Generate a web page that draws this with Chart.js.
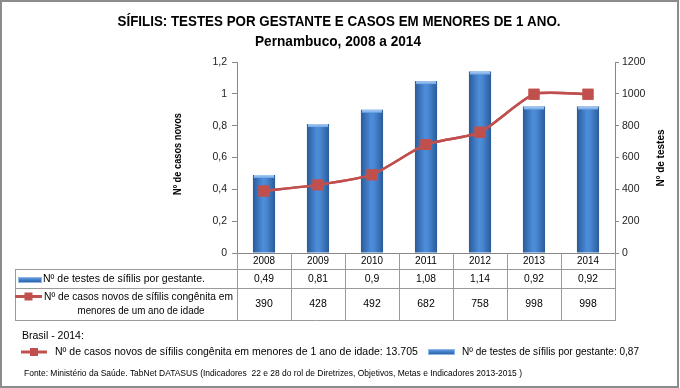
<!DOCTYPE html>
<html>
<head>
<meta charset="utf-8">
<script src="https://cdn.jsdelivr.net/npm/chart.js@4"></script>
<style>
  html, body { margin: 0; padding: 0; background: #fff; }
  #wrap { width: 680px; height: 388px; }
</style>
</head>
<body>
<div id="wrap"><canvas id="grafico" width="680" height="388"></canvas></div>
<script>
const anos = ['2008', '2009', '2010', '2011', '2012', '2013', '2014'];
const testesPorGestante = [0.49, 0.81, 0.9, 1.08, 1.14, 0.92, 0.92];
const casosNovos = [390, 428, 492, 682, 758, 998, 998];
const ticksEsquerda = { min: 0, max: 1.2, passo: 0.2 };
const ticksDireita = { min: 0, max: 1200, passo: 200 };

const titulo1 = 'SÍFILIS: TESTES POR GESTANTE E CASOS EM MENORES DE 1 ANO.';
const titulo2 = 'Pernambuco, 2008 a 2014';
const tituloEsq = 'Nº de casos novos';
const tituloDir = 'Nº de testes';
const rotuloBarras = 'Nº de testes de sífilis por gestante.';
const rotuloLinha = ['Nº de casos novos de sífilis congênita em', 'menores de um ano de idade'];
const brasilTitulo = 'Brasil - 2014:';
const brasilCasos = 'Nº de casos novos de sífilis congênita em menores de 1 ano de idade: 13.705';
const brasilTestes = 'Nº de testes de sífilis por gestante: 0,87';
const fonte = 'Fonte: Ministério da Saúde. TabNet DATASUS (Indicadores  22 e 28 do rol de Diretrizes, Objetivos, Metas e Indicadores 2013-2015 )';

const AZUL = '#3f7cc6';
const VERMELHO = '#c0504d';
const CINZA = '#9a9a9a';
const FAMILIA = '"Liberation Sans", Arial, sans-serif';

function virgula(v) {
    return String(Math.round(v * 100) / 100).replace('.', ',');
}

function gradienteBarra(ctx, x0, x1) {
    const g = ctx.createLinearGradient(x0, 0, x1, 0);
    g.addColorStop(0, '#2a5b99');
    g.addColorStop(0.45, '#4d8ddb');
    g.addColorStop(0.6, '#4a88d4');
    g.addColorStop(1, '#2a5b99');
    return g;
}

function texto(ctx, t, x, y, maxW) {
    const w = ctx.measureText(t).width;
    if (maxW && w > maxW) ctx.fillText(t, x, y, maxW);
    else ctx.fillText(t, x, y);
}

function gradienteVertical(ctx, y0, y1) {
    const g = ctx.createLinearGradient(0, y0, 0, y1);
    g.addColorStop(0, '#6ea3e6');
    g.addColorStop(0.5, '#3f7cc6');
    g.addColorStop(1, '#2a5b99');
    return g;
}

function iconeBarra(ctx, x, y, w, h) {
    ctx.fillStyle = gradienteVertical(ctx, y, y + h);
    ctx.fillRect(x, y, w, h);
    ctx.strokeStyle = '#8fb6e6';
    ctx.lineWidth = 1;
    ctx.strokeRect(x + 0.5, y + 0.5, w - 1, h - 1);
}

function iconeLinha(ctx, x0, x1, y) {
    ctx.strokeStyle = VERMELHO;
    ctx.lineWidth = 3;
    ctx.beginPath();
    ctx.moveTo(x0, y);
    ctx.lineTo(x1, y);
    ctx.stroke();
    ctx.fillStyle = VERMELHO;
    const cx = (x0 + x1) / 2;
    ctx.fillRect(cx - 4, y - 4, 8, 8);
}

const extras = {
    id: 'extras',
    afterDatasetsDraw(chart) {
        // tampa clara no topo das barras
        const ctx = chart.ctx;
        const meta = chart.getDatasetMeta(1);
        ctx.save();
        meta.data.forEach(b => {
            const w = b.width;
            const g = ctx.createLinearGradient(0, b.y, 0, b.y + 4);
            g.addColorStop(0, '#a9cdf3');
            g.addColorStop(1, '#5d98df');
            ctx.fillStyle = g;
            ctx.fillRect(b.x - w / 2 + 1, b.y, w - 2, 3);
        });
        ctx.restore();
        // linha por cima das barras
        chart.getDatasetMeta(0).controller.draw();
    },
    afterDraw(chart) {
        const ctx = chart.ctx;
        const area = chart.chartArea;
        const x = chart.scales.x;
        ctx.save();

        // moldura
        ctx.strokeStyle = '#8c8c8c';
        ctx.lineWidth = 2;
        ctx.strokeRect(1, 1, 677, 386);

        // títulos
        ctx.fillStyle = '#000';
        ctx.textAlign = 'center';
        ctx.textBaseline = 'middle';
        ctx.font = 'bold 15px ' + FAMILIA;
        texto(ctx, titulo1, 339, 22, 443);
        texto(ctx, titulo2, 338, 42, 166);

        // títulos dos eixos
        ctx.font = 'bold 11px ' + FAMILIA;
        ctx.save();
        ctx.translate(178, 154);
        ctx.rotate(-Math.PI / 2);
        texto(ctx, tituloEsq, 0, 0, 82);
        ctx.restore();
        ctx.save();
        ctx.translate(661, 158);
        ctx.rotate(-Math.PI / 2);
        texto(ctx, tituloDir, 0, 0, 57);
        ctx.restore();

        // eixo x
        ctx.strokeStyle = '#888';
        ctx.lineWidth = 1;
        ctx.beginPath();
        ctx.moveTo(area.left, area.bottom + 0.5);
        ctx.lineTo(area.right, area.bottom + 0.5);
        ctx.stroke();

        // tabela
        const passo = (area.right - area.left) / anos.length;
        const yAnos = area.bottom, yL1 = 269, yL2 = 288, yFim = 320;
        ctx.strokeStyle = CINZA;
        ctx.beginPath();
        for (let i = 0; i <= anos.length; i++) {
            const xx = Math.round(area.left + passo * i) + 0.5;
            ctx.moveTo(xx, yAnos);
            ctx.lineTo(xx, yFim);
        }
        ctx.moveTo(15.5, yL1);
        ctx.lineTo(15.5, yFim);
        [yL1, yL2, yFim].forEach(yy => {
            ctx.moveTo(15, yy + 0.5);
            ctx.lineTo(area.right + 1, yy + 0.5);
        });
        ctx.stroke();

        ctx.fillStyle = '#000';
        ctx.font = '10.5px ' + FAMILIA;
        ctx.textAlign = 'center';
        anos.forEach((a, i) => {
            const cx = x.getPixelForValue(i);
            texto(ctx, a, cx, 261.5, 22);
            texto(ctx, virgula(testesPorGestante[i]), cx, 279.5, 20);
            texto(ctx, String(casosNovos[i]), cx, 304, 18);
        });

        // legenda na tabela
        iconeBarra(ctx, 18, 277, 24, 6);
        ctx.fillStyle = '#000';
        ctx.textAlign = 'left';
        texto(ctx, rotuloBarras, 43, 279.5, 162);
        iconeLinha(ctx, 15, 42, 296.5);
        ctx.fillStyle = '#000';
        texto(ctx, rotuloLinha[0], 44, 297, 189);
        ctx.textAlign = 'center';
        texto(ctx, rotuloLinha[1], 141, 311.5, 127);

        // rodapé
        ctx.textAlign = 'left';
        ctx.font = '10.5px ' + FAMILIA;
        texto(ctx, brasilTitulo, 22, 336, 62);
        iconeLinha(ctx, 21, 47, 352);
        ctx.fillStyle = '#000';
        texto(ctx, brasilCasos, 55, 352.5, 368);
        iconeBarra(ctx, 428, 349, 27, 6);
        ctx.fillStyle = '#000';
        texto(ctx, brasilTestes, 462, 352.5, 177);
        ctx.font = '9px ' + FAMILIA;
        texto(ctx, fonte, 24, 374, 498);

        ctx.restore();
    }
};

const grafico = document.getElementById('grafico');

new Chart(grafico, {
    type: 'bar',
    data: {
        labels: anos,
        datasets: [{
            type: 'line',
            label: rotuloLinha.join(' '),
            data: casosNovos,
            yAxisID: 'y2',
            borderColor: VERMELHO,
            backgroundColor: VERMELHO,
            borderWidth: 2.5,
            tension: 0.2,
            pointStyle: 'rect',
            pointRadius: 6,
            pointHoverRadius: 6,
            order: 0
        }, {
            label: rotuloBarras,
            data: testesPorGestante,
            yAxisID: 'y',
            backgroundColor: function (c) {
                const chart = c.chart;
                const area = chart.chartArea;
                if (!area || !chart.scales.x) return AZUL;
                const passo = (area.right - area.left) / anos.length;
                const w = passo * 0.41;
                const cx = chart.scales.x.getPixelForValue(c.dataIndex);
                return gradienteBarra(chart.ctx, cx - w / 2, cx + w / 2);
            },
            borderWidth: 0,
            barPercentage: 0.41,
            categoryPercentage: 1,
            order: 1
        }]
    },
    options: {
        responsive: false,
        animation: false,
        layout: {
            padding: { left: 207, right: 25, top: 62, bottom: 135 }
        },
        plugins: {
            legend: { display: false },
            tooltip: { enabled: false }
        },
        scales: {
            x: {
                display: false,
                offset: true
            },
            y: {
                position: 'left',
                min: ticksEsquerda.min,
                max: ticksEsquerda.max,
                afterFit: s => { s.width = 30; },
                border: { display: true, color: '#888' },
                grid: { drawOnChartArea: false, tickLength: 5, color: '#888' },
                ticks: {
                    stepSize: ticksEsquerda.passo,
                    padding: 5,
                    color: '#222',
                    font: { family: FAMILIA, size: 10.5 },
                    callback: v => virgula(v)
                }
            },
            y2: {
                position: 'right',
                min: ticksDireita.min,
                max: ticksDireita.max,
                afterFit: s => { s.width = 40; },
                border: { display: true, color: '#888' },
                grid: { drawOnChartArea: false, tickLength: 4, color: '#888' },
                ticks: {
                    stepSize: ticksDireita.passo,
                    padding: 3,
                    color: '#222',
                    font: { family: FAMILIA, size: 10.5 },
                    callback: v => String(v)
                }
            }
        }
    },
    plugins: [extras]
});
</script>
</body>
</html>
